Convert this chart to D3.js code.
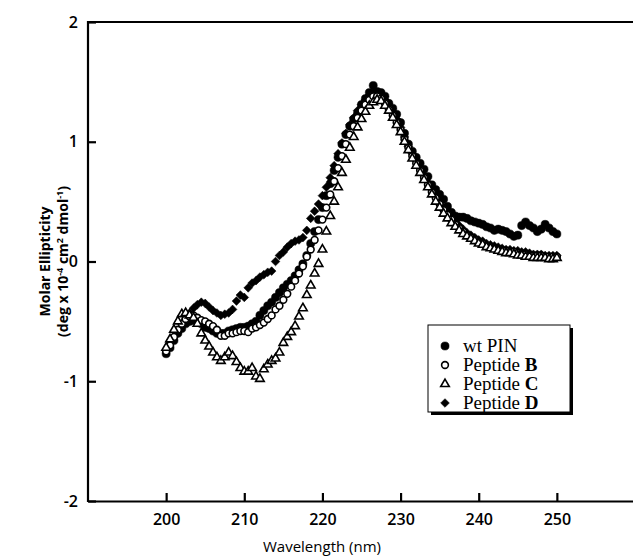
<!DOCTYPE html>
<html>
<head>
<meta charset="utf-8">
<script src="https://cdn.jsdelivr.net/npm/d3@7"></script>
<style>
  body { margin: 0; background: #fff; }
  svg { display: block; }
</style>
</head>
<body>
<svg class="cd"></svg>
<script>
// Total dimensions
var w = 633,
    h = 558;

var svg = d3.select(".cd")
    .attr("width", w)
    .attr("height", h);

// Wavelengths (nm), 0.5 nm steps
var wavelength = [
    200, 200.5, 201, 201.5, 202, 202.5, 203, 203.5, 204, 204.5,
    205, 205.5, 206, 206.5, 207, 207.5, 208, 208.5, 209, 209.5,
    210, 210.5, 211, 211.5, 212, 212.5, 213, 213.5, 214, 214.5,
    215, 215.5, 216, 216.5, 217, 217.5, 218, 218.5, 219, 219.5,
    220, 220.5, 221, 221.5, 222, 222.5, 223, 223.5, 224, 224.5,
    225, 225.5, 226, 226.5, 227, 227.5, 228, 228.5, 229, 229.5,
    230, 230.5, 231, 231.5, 232, 232.5, 233, 233.5, 234, 234.5,
    235, 235.5, 236, 236.5, 237, 237.5, 238, 238.5, 239, 239.5,
    240, 240.5, 241, 241.5, 242, 242.5, 243, 243.5, 244, 244.5,
    245, 245.5, 246, 246.5, 247, 247.5, 248, 248.5, 249, 249.5,
    250
];

// Molar ellipticity (deg x 10^-4 cm2 dmol-1)
var wtPIN = [
    -0.77, -0.72, -0.66, -0.60, -0.56, -0.52, -0.50, -0.49, -0.50, -0.52,
    -0.55, -0.56, -0.58, -0.60, -0.60, -0.60, -0.58, -0.57, -0.56, -0.55,
    -0.55, -0.54, -0.52, -0.50, -0.45, -0.41, -0.37, -0.34, -0.30, -0.26,
    -0.22, -0.19, -0.16, -0.12, -0.07, -0.02, 0.05, 0.15, 0.25, 0.35,
    0.45, 0.55, 0.65, 0.76, 0.87, 0.98, 1.06, 1.13, 1.19, 1.24,
    1.31, 1.36, 1.41, 1.47, 1.42, 1.41, 1.38, 1.32, 1.28, 1.23,
    1.16, 1.07, 0.98, 0.92, 0.87, 0.82, 0.77, 0.71, 0.64, 0.60,
    0.56, 0.52, 0.46, 0.41, 0.38, 0.37, 0.37, 0.36, 0.34, 0.33,
    0.32, 0.31, 0.29, 0.28, 0.26, 0.27, 0.26, 0.25, 0.23, 0.21,
    0.22, 0.30, 0.33, 0.30, 0.28, 0.25, 0.27, 0.31, 0.28, 0.25,
    0.23
];

var peptideB = [
    -0.75, -0.70, -0.63, -0.57, -0.52, -0.48, -0.46, -0.45, -0.47, -0.49,
    -0.50, -0.52, -0.54, -0.57, -0.62, -0.62, -0.60, -0.60, -0.59, -0.58,
    -0.58, -0.59, -0.56, -0.55, -0.53, -0.51, -0.48, -0.45, -0.40, -0.37,
    -0.32, -0.27, -0.21, -0.16, -0.10, -0.04, 0.04, 0.10, 0.18, 0.26,
    0.35, 0.45, 0.56, 0.67, 0.78, 0.88, 0.98, 1.06, 1.13, 1.20,
    1.26, 1.31, 1.35, 1.38, 1.38, 1.36, 1.32, 1.27, 1.22, 1.16,
    1.10, 1.02, 0.95, 0.88, 0.82, 0.76, 0.70, 0.64, 0.58, 0.53,
    0.48, 0.43, 0.39, 0.35, 0.31, 0.28, 0.25, 0.22, 0.20, 0.18,
    0.16, 0.15, 0.13, 0.12, 0.11, 0.10, 0.09, 0.09, 0.08, 0.08,
    0.07, 0.06, 0.06, 0.05, 0.05, 0.05, 0.05, 0.04, 0.04, 0.04,
    0.04
];

var peptideC = [
    -0.72, -0.65, -0.57, -0.50, -0.44, -0.43, -0.45, -0.47, -0.52, -0.60,
    -0.66, -0.71, -0.76, -0.80, -0.83, -0.80, -0.76, -0.79, -0.84, -0.89,
    -0.92, -0.92, -0.89, -0.96, -0.98, -0.90, -0.86, -0.83, -0.81, -0.76,
    -0.68, -0.63, -0.59, -0.54, -0.46, -0.39, -0.28, -0.20, -0.10, -0.02,
    0.10, 0.25, 0.38, 0.50, 0.62, 0.74, 0.85, 0.95, 1.04, 1.12,
    1.19, 1.25, 1.30, 1.33, 1.35, 1.34, 1.30, 1.26, 1.20, 1.14,
    1.08, 1.00, 0.93, 0.86, 0.80, 0.74, 0.68, 0.62, 0.56, 0.50,
    0.45, 0.40, 0.36, 0.32, 0.29, 0.26, 0.23, 0.21, 0.19, 0.17,
    0.15, 0.14, 0.12, 0.11, 0.10, 0.09, 0.08, 0.07, 0.07, 0.06,
    0.05, 0.05, 0.04, 0.04, 0.03, 0.03, 0.03, 0.03, 0.02, 0.02,
    0.03
];

var peptideD = [
    -0.74, -0.68, -0.63, -0.58, -0.52, -0.48, -0.43, -0.39, -0.36, -0.34,
    -0.35, -0.38, -0.41, -0.43, -0.45, -0.44, -0.43, -0.40, -0.33, -0.28,
    -0.30, -0.22, -0.18, -0.16, -0.13, -0.11, -0.09, -0.08, 0.00, 0.05,
    0.08, 0.12, 0.15, 0.17, 0.18, 0.20, 0.26, 0.36, 0.42, 0.48,
    0.55, 0.62, 0.70, 0.80, 0.90, 0.99, 1.07, 1.14, 1.20, 1.26,
    1.31, 1.35, 1.39, 1.41, 1.41, 1.39, 1.35, 1.30, 1.25, 1.19,
    1.12, 1.04, 0.96, 0.90, 0.84, 0.78, 0.72, 0.66, 0.60, 0.55,
    0.50, 0.45, 0.41, 0.37, 0.33, 0.30, 0.27, 0.24, 0.22, 0.20,
    0.18, 0.17, 0.15, 0.14, 0.13, 0.12, 0.11, 0.10, 0.10, 0.09,
    0.09, 0.08, 0.08, 0.07, 0.06, 0.06, 0.06, 0.05, 0.05, 0.05,
    0.05
];

var xTicks = [200, 210, 220, 230, 240, 250];
var yTicks = [-2, -1, 0, 1, 2];

var legendLabels = [
    ["wt PIN", ""],
    ["Peptide ", "B"],
    ["Peptide ", "C"],
    ["Peptide ", "D"]
];

// Plot area (no right border, axes run to the edge)
var plotLeft = 88, plotTop = 22, plotBottom = 501;

var xScale = d3.scaleLinear()
    .domain([190, 260])
    .range([plotLeft, 635]);

var yScale = d3.scaleLinear()
    .domain([-2, 2])
    .range([plotBottom, plotTop]);

var sans = "'Open Sans', 'DejaVu Sans', sans-serif";
var serif = "'Liberation Serif', 'Times New Roman', serif";

// Frame: left axis, top line, bottom axis
var xAxis = d3.axisBottom(xScale)
    .tickValues(xTicks)
    .tickSizeInner(-8)
    .tickSizeOuter(0)
    .tickPadding(13)
    .tickFormat(d3.format("d"));

var yAxis = d3.axisLeft(yScale)
    .tickValues(yTicks)
    .tickSizeInner(-8)
    .tickSizeOuter(0)
    .tickPadding(10)
    .tickFormat(d3.format("d"));

var gx = svg.append("g")
    .attr("class", "x axis")
    .attr("transform", "translate(0," + plotBottom + ")")
    .call(xAxis);

var gy = svg.append("g")
    .attr("class", "y axis")
    .attr("transform", "translate(" + plotLeft + ",0)")
    .call(yAxis);

svg.append("line")
    .attr("x1", plotLeft)
    .attr("x2", w)
    .attr("y1", plotTop)
    .attr("y2", plotTop)
    .attr("stroke", "#000")
    .attr("stroke-width", 2.2);

svg.selectAll(".axis path, .axis line")
    .attr("stroke", "#000")
    .attr("stroke-width", 2.2);

svg.selectAll(".axis text")
    .attr("font-family", sans)
    .attr("font-size", "16px")
    .attr("font-weight", 600)
    .attr("fill", "#000");

// minus signs drawn as plain hyphens, like the figure
gy.selectAll("text").text(function(d) { return d < 0 ? "-" + Math.abs(d) : d; });

gy.select(".domain").attr("d", "M0," + (plotTop - 1) + "V" + (plotBottom + 1));

// Axis titles
svg.append("text")
    .attr("x", 322)
    .attr("y", 552)
    .attr("text-anchor", "middle")
    .attr("font-family", sans)
    .attr("font-size", "15px")
    .text("Wavelength (nm)");

var yTitle = svg.append("text")
    .attr("transform", "translate(50," + yScale(0) + ") rotate(-90)")
    .attr("text-anchor", "middle")
    .attr("font-family", sans)
    .attr("font-size", "14px")
    .attr("font-weight", "bold");

yTitle.append("tspan")
    .attr("x", 0)
    .attr("y", 0)
    .text("Molar Ellipticity");

var l2 = yTitle.append("tspan")
    .attr("x", 0)
    .attr("y", 18);
l2.append("tspan").text("(deg x 10");
l2.append("tspan").attr("dy", -5).attr("font-size", "9px").text("-4");
l2.append("tspan").attr("dy", 5).text(" cm");
l2.append("tspan").attr("dy", -5).attr("font-size", "9px").text("2");
l2.append("tspan").attr("dy", 5).text(" dmol");
l2.append("tspan").attr("dy", -5).attr("font-size", "9px").text("-1");
l2.append("tspan").attr("dy", 5).text(")");

// Series
var series = [
    { name: "wt", values: wtPIN, shape: "circle", fill: "#000" },
    { name: "D", values: peptideD, shape: "diamond", fill: "#000" },
    { name: "B", values: peptideB, shape: "circle", fill: "#fff" },
    { name: "C", values: peptideC, shape: "triangle", fill: "#fff" }
];

var symbolPath = {
    circle: d3.symbol().type(d3.symbolCircle).size(52)(),
    openCircle: d3.symbol().type(d3.symbolCircle).size(36)(),
    triangle: d3.symbol().type(d3.symbolTriangle).size(32)(),
    diamond: d3.symbol().type(d3.symbolSquare).size(38)()
};

function shapeFor(s) {
    if (s.shape == "circle" && s.fill == "#fff") return symbolPath.openCircle;
    return symbolPath[s.shape];
}

function drawMarker(sel, s, x, y) {
    sel.append("path")
        .attr("d", shapeFor(s))
        .attr("transform", "translate(" + x + "," + y + ")" + (s.shape == "diamond" ? " rotate(45)" : ""))
        .attr("fill", s.fill)
        .attr("stroke", "#000")
        .attr("stroke-width", s.fill == "#fff" ? 1.6 : 0.5);
}

series.forEach(function(s) {
    var gs = svg.append("g").attr("class", "series " + s.name);
    gs.selectAll("path")
        .data(wavelength)
        .enter()
        .append("path")
        .attr("d", shapeFor(s))
        .attr("transform", function(d, i) {
            return "translate(" + xScale(d) + "," + yScale(s.values[i]) + ")" +
                (s.shape == "diamond" ? " rotate(45)" : "");
        })
        .attr("fill", s.fill)
        .attr("stroke", "#000")
        .attr("stroke-width", s.fill == "#fff" ? 1.6 : 0.5);
});

// Legend
var legend = svg.append("g").attr("class", "legend");

// drop shadow on right/bottom
legend.append("rect")
    .attr("x", 431)
    .attr("y", 328)
    .attr("width", 142)
    .attr("height", 87)
    .attr("fill", "#000");

legend.append("rect")
    .attr("x", 428)
    .attr("y", 325)
    .attr("width", 142)
    .attr("height", 87)
    .attr("fill", "#fff")
    .attr("stroke", "#000")
    .attr("stroke-width", 1);

var legendSeries = [series[0], series[2], series[3], series[1]];

legendLabels.forEach(function(lab, i) {
    var yy = 346 + i * 19;
    drawMarker(legend, legendSeries[i], 445, yy);
    var t = legend.append("text")
        .attr("x", 463)
        .attr("y", yy + 6)
        .attr("font-family", serif)
        .attr("font-size", "19px")
        .attr("fill", "#000");
    t.append("tspan").text(lab[0]);
    if (lab[1]) t.append("tspan").attr("font-weight", "bold").text(lab[1]);
});
</script>
</body>
</html>
